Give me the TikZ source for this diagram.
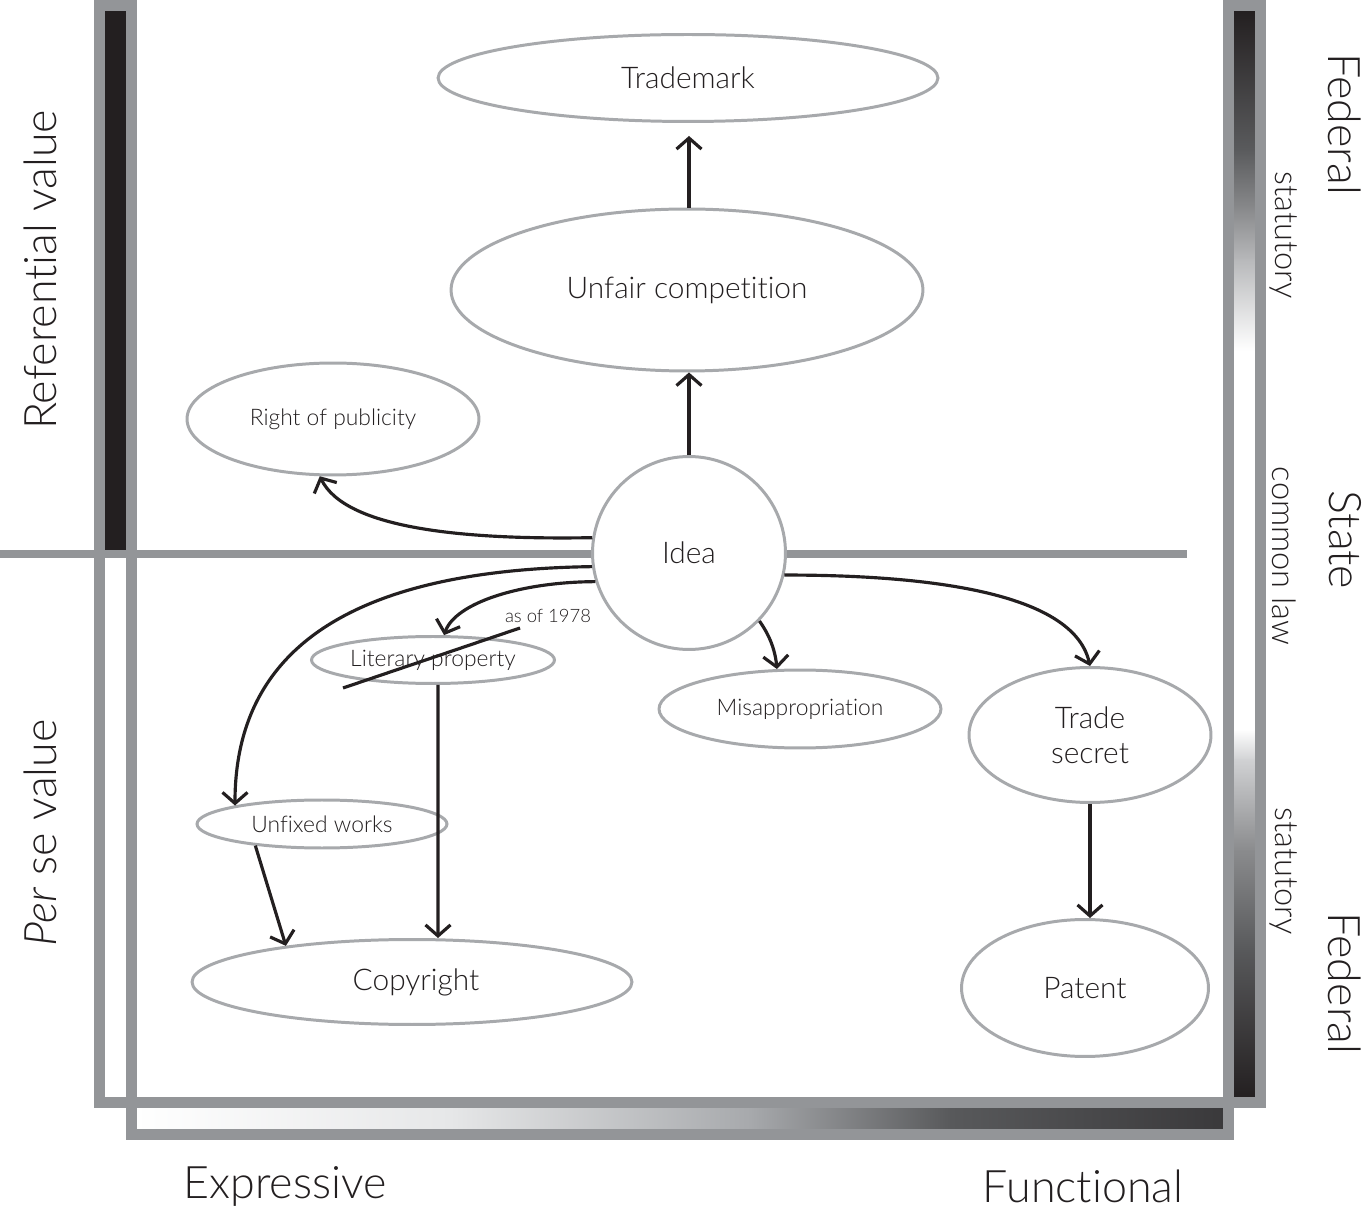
\documentclass[tikz,border=0pt]{standalone}
\usepackage{fontspec}
\setmainfont{Lato}[UprightFont=* Light, ItalicFont=* Light Italic, Ligatures=NoCommon]
\usetikzlibrary{shapes.geometric,arrows.meta}
\definecolor{framec}{HTML}{939598}
\definecolor{ink}{HTML}{231F20}
\definecolor{edgec}{HTML}{A7A9AC}
\definecolor{ra}{HTML}{5A5B5D}
\definecolor{rb}{HTML}{8A8B8D}
\definecolor{rc}{HTML}{B8B9BB}
\definecolor{rd}{HTML}{D0D1D3}
\definecolor{re}{HTML}{58595B}
\definecolor{ba}{HTML}{E6E7E8}
\definecolor{bb}{HTML}{A7A9AC}
\definecolor{bc}{HTML}{3A393B}
\tikzset{
  oval/.style={ellipse, draw=edgec, line width=1.7pt, fill=white, inner sep=0pt, text=ink, align=center},
  arr/.style={draw=ink, line width=1.8pt, -{Straight Barb[length=0.22cm,width=0.5cm]}},
  framel/.style={draw=framec, line width=0.22cm},
  big/.style={font=\fontsize{17}{20}\selectfont},
  small/.style={font=\fontsize{13}{15}\selectfont},
  axislab/.style={font=\fontsize{25.5}{30}\selectfont, text=ink, inner sep=0pt},
  sidelab/.style={font=\fontsize{18.5}{22}\selectfont, text=ink, inner sep=0pt},
}
\begin{document}
\begin{tikzpicture}[x=0.02cm,y=-0.02cm]
\useasboundingbox (0,0) rectangle (1366,1212);
% ---- bar fills
\fill[ink] (104,10) rectangle (127,550);
\foreach \ya/\yb/\ca/\cb in {10/151/ink/ra,150/211/ra/rb,210/261/rb/rc,260/351/rc/white,729/761/white/rd,760/851/rd/rb,850/951/rb/re,950/1099/re/ink}
  \shade[top color=\ca, bottom color=\cb] (1232,\ya) rectangle (1257,\yb);
\foreach \xa/\xb/\ca/\cb in {135/451/white/ba,450/751/ba/bb,750/951/bb/re,950/1225/re/bc}
  \shade[left color=\ca, right color=\cb] (\xa,1106) rectangle (\xb,1131);
% ---- frames
\draw[framel] (99.5,5.5) rectangle (131.5,1102);
\draw[framel] (1228.5,5.5) rectangle (1260,1102);
\draw[framel] (131.5,1102) rectangle (1228,1134.5);
\draw[draw=framec, line width=0.16cm] (0,554) -- (1187,554);
% ---- axis labels
\node[axislab, rotate=90] (refv) at (40,270) {Referential value};
\node[axislab, rotate=90] (perse) at (40,833) {\textit{Per} se value};
\node[axislab] (expr) at (285,1186) {Expressive};
\node[axislab] (func) at (1083,1186) {Functional};
\node[axislab, rotate=-90] (fed1) at (1345,124) {Federal};
\node[axislab, rotate=-90] (state) at (1345,540) {State};
\node[axislab, rotate=-90] (fed2) at (1345,983) {Federal};
\node[sidelab, rotate=-90] (stat1) at (1284,235) {statutory};
\node[sidelab, rotate=-90] (cl) at (1284,556) {common law};
\node[sidelab, rotate=-90] (stat2) at (1284,871) {statutory};
% ---- nodes
\node[oval, big, minimum width=10cm, minimum height=1.74cm] (tm) at (688,78) {Trademark};
\node[oval, big, minimum width=9.44cm, minimum height=3.24cm] (uc) at (687,290) {Unfair competition};
\node[oval, small, minimum width=5.84cm, minimum height=2.24cm] (rop) at (333,419) {Right of publicity};
\node[oval, big, circle, minimum size=3.86cm] (idea) at (689,553) {Idea};
\node[oval, small, minimum width=4.86cm, minimum height=0.94cm] (lit) at (433,660) {Literary property};
\node[oval, small, minimum width=5.64cm, minimum height=1.56cm] (mis) at (800,709) {Misappropriation};
\node[oval, big, minimum width=4.84cm, minimum height=2.7cm] (ts) at (1090,735) {Trade\\secret};
\node[oval, small, minimum width=5cm, minimum height=0.96cm] (unf) at (322,824) {Unfixed works};
\node[oval, big, minimum width=8.8cm, minimum height=1.7cm] (copy) at (412,982) {\hspace*{0.16cm}Copyright};
\node[oval, big, minimum width=4.94cm, minimum height=2.74cm] (pat) at (1085,988) {Patent};
\node[font=\fontsize{10.5}{13}\selectfont, text=ink, inner sep=0pt] (asof) at (548,616) {as of 1978};
% ---- connectors
\draw[arr, shorten >=0.26cm] (uc.north -| idea.north) -- (tm.south -| idea.north);
\draw[arr] (idea.north) -- (idea.north |- uc.south);
\draw[arr] (idea.171) .. controls (460,540) and (345,528) .. (rop.257);
\draw[arr] (idea.188) .. controls (350,570) and (235,650) .. (unf.168);
\draw[arr] (idea.197) .. controls (520,582) and (455,603) .. (lit.66);
\draw[arr] (idea.316) .. controls (768,633) and (775,648) .. (mis.120);
\draw[arr] (idea.-13) .. controls (950,575) and (1075,598) .. (ts.north);
\draw[arr] ([xshift=0.1cm]lit.south) -- ([xshift=0.52cm]copy.north);
\draw[arr] (unf.198) -- (copy.164);
\draw[arr] (ts.south) -- (ts.south |- pat.north);
\coordinate (s1) at (343,688);
\coordinate (s2) at (520,628);
\draw[ink, line width=1.8pt] (s1) -- (s2);
\end{tikzpicture}
\end{document}
